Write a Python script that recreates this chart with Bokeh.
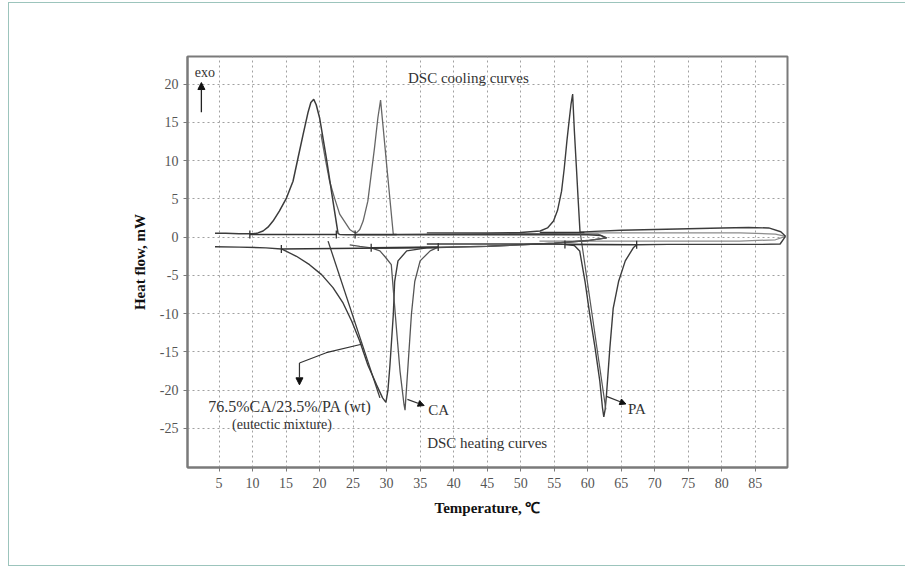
from bokeh.plotting import figure
from bokeh.models import Range1d, Label, Arrow, NormalHead, FixedTicker
from bokeh.embed import file_html
from bokeh.resources import INLINE

# ---------------- data ----------------
x_ticks = [5, 10, 15, 20, 25, 30, 35, 40, 45, 50, 55, 60, 65, 70, 75, 80, 85]
y_ticks = [20, 15, 10, 5, 0, -5, -10, -15, -20, -25]
y_tick_labels = ["20", "15", "10", "5", "0", "-5", "-10", "-15", "-20", "-25"]

# eutectic mixture, cooling run
eut_cool_x = [62.8, 62.0, 60.0, 50.0, 40.0, 30.0, 24.0, 23.0, 22.76, 22.0, 21.0, 20.0, 19.5, 19.13,
              18.7, 18.28, 17.54, 16.8, 16.04, 15.06, 14.0, 13.06, 12.3, 11.57, 10.8, 10.07, 8.0, 6.0, 4.4]
eut_cool_y = [-0.1, 0.2, 0.3, 0.3, 0.3, 0.3, 0.3, 0.35, 0.45, 4.7, 10.4, 15.6, 17.3, 18.0,
              17.6, 16.3, 13.4, 10.4, 7.3, 5.1, 3.4, 2.1, 1.3, 0.8, 0.55, 0.43, 0.45, 0.5, 0.5]

# CA, cooling run
ca_cool_x = [62.8, 61.5, 55.0, 45.0, 35.0, 31.0, 30.6, 30.0, 29.5, 29.1, 28.7, 28.2, 27.7, 27.2,
             26.5, 26.0, 25.5, 25.0, 24.5, 23.0, 22.2, 21.5, 20.8, 20.2]
ca_cool_y = [-0.1, 0.4, 0.45, 0.45, 0.4, 0.35, 4.0, 9.5, 14.2, 17.9, 15.6, 11.7, 8.2, 4.7,
             2.1, 1.0, 0.56, 0.7, 1.0, 3.0, 5.2, 7.3, 10.5, 13.5]

# PA, cooling run
pa_cool_x = [89.5, 88.8, 87.0, 84.0, 80.0, 75.0, 70.0, 65.0, 61.0, 58.85, 58.6, 58.3, 58.0, 57.75,
             57.5, 57.2, 56.9, 56.5, 56.1, 55.5, 54.9, 54.0, 52.9, 50.0, 45.0, 40.0, 36.0]
pa_cool_y = [0.1, 0.7, 1.2, 1.25, 1.2, 1.1, 1.0, 0.9, 0.75, 0.65, 4.5, 9.3, 14.0, 18.7,
             17.3, 15.0, 12.6, 9.0, 6.0, 3.5, 2.1, 1.2, 0.8, 0.6, 0.55, 0.55, 0.55]

# eutectic mixture, heating run
eut_heat_x = [4.4, 8.0, 12.0, 14.3, 16.55, 18.5, 20.3, 22.0, 23.5, 24.8, 26.0, 27.2, 28.5, 29.4,
              29.9, 30.2, 30.5, 31.0, 31.2, 31.7, 33.0, 36.0, 45.0, 55.0, 60.0, 62.8]
eut_heat_y = [-1.25, -1.3, -1.4, -1.55, -2.5, -3.6, -4.9, -6.6, -8.6, -11.0, -13.6, -16.7, -19.3, -21.0,
              -21.6, -20.0, -16.7, -10.1, -5.8, -3.1, -1.8, -1.4, -1.2, -0.8, -0.45, -0.1]

# CA, heating run
ca_heat_x = [24.5, 26.0, 27.7, 29.0, 29.8, 30.7, 31.5, 32.0, 32.6, 32.75, 33.2, 33.7, 34.2, 35.0,
             36.5, 37.7, 45.0, 55.0, 60.0, 62.8]
ca_heat_y = [-1.0, -1.2, -1.4, -1.8, -2.6, -3.6, -12.3, -17.5, -21.9, -22.6, -16.7, -10.1, -5.8, -3.1,
             -1.8, -1.3, -1.2, -0.8, -0.45, -0.1]

# PA, heating run
pa_heat_x = [36.0, 45.0, 52.0, 56.6, 58.0, 58.8, 59.6, 60.3, 61.1, 61.8, 62.2, 62.4, 62.6, 62.8,
             63.3, 63.8, 64.6, 65.6, 66.8, 67.3, 72.0, 80.0, 86.0, 88.7, 89.5]
pa_heat_y = [-0.9, -0.9, -0.9, -0.95, -1.1, -1.8, -5.8, -10.1, -14.5, -18.8, -22.3, -23.5, -22.5, -20.6,
             -14.5, -9.3, -5.8, -3.1, -1.4, -1.0, -0.95, -0.95, -0.95, -0.9, 0.1]

# extra baseline traces of the PA runs
pa_base2_x = [52.8, 60.0, 70.0, 82.7, 88.0, 89.5]
pa_base2_y = [0.56, 0.56, 0.56, 0.56, 0.4, 0.1]
pa_base3_x = [52.8, 60.0, 70.0, 82.7, 88.0, 89.5]
pa_base3_y = [-0.52, -0.52, -0.52, -0.52, -0.35, 0.1]

# onset tangents
eut_tan_x = [21.27, 29.0]
eut_tan_y = [-0.52, -21.0]
pa_tan_x = [58.9, 62.7]
pa_tan_y = [0.5, -22.5]

# integration baselines (start/end x and y)
int_x0 = [9.6, 25.3, 14.3, 27.7, 56.6, 52.9]
int_y0 = [0.35, 0.35, -1.55, -1.4, -0.95, 0.6]
int_x1 = [22.5, 31.5, 37.7, 37.7, 67.3, 59.5]
int_y1 = [0.35, 0.35, -1.35, -1.3, -1.0, 0.6]

# limit markers
mark_x = [9.6, 22.5, 25.3, 14.3, 27.7, 37.7, 56.6, 67.3]
mark_y = [0.35, 0.35, 0.35, -1.55, -1.4, -1.3, -0.95, -1.0]

# annotation anchors
eut_ptr_x = [26.25, 21.0, 17.0]
eut_ptr_y = [-14.0, -15.1, -16.45]

SERIF = "Liberation Serif"
DARK = "#3c3c3c"
MID = "#666666"
LIGHT = "#8c8c8c"
FRAME = "#9cc4bc"

p = figure(width=897, height=564, output_backend="svg", toolbar_location=None,
           x_range=Range1d(0.3, 89.8), y_range=Range1d(-30.1, 23.6))
p.min_border_left = 178
p.min_border_top = 53
p.min_border_right = 119
p.min_border_bottom = 100
p.background_fill_color = "white"
p.border_fill_color = "white"
p.outline_line_color = "#7a7a7a"
p.outline_line_width = 2
p.styles = {"margin-left": "8px", "margin-top": "2px",
            "border-left": "1px solid " + FRAME, "border-top": "1px solid " + FRAME,
            "border-bottom": "1px solid " + FRAME}

for ax in (p.xaxis[0], p.yaxis[0]):
    ax.axis_line_color = "#7a7a7a"
    ax.axis_line_width = 2
    ax.major_tick_line_color = "#7a7a7a"
    ax.major_tick_out = 4
    ax.major_tick_in = 0
    ax.minor_tick_line_color = None
    ax.major_label_text_font = SERIF
    ax.major_label_text_font_size = "14px"
    ax.major_label_text_color = "#555555"
    ax.axis_label_text_font = SERIF
    ax.axis_label_text_font_size = "15px"
    ax.axis_label_text_font_style = "bold"
    ax.axis_label_text_color = "#111111"

p.xaxis.ticker = FixedTicker(ticks=x_ticks)
p.yaxis.ticker = FixedTicker(ticks=y_ticks)
p.yaxis.major_label_overrides = {t: l for t, l in zip(y_ticks, y_tick_labels)}
p.xaxis.axis_label = "Temperature, \u2103"
p.yaxis.axis_label = "Heat flow, mW"
p.xaxis.major_label_standoff = 6
p.yaxis.major_label_standoff = 5
p.xaxis.axis_label_standoff = 9
p.yaxis.axis_label_standoff = 9

p.xgrid.ticker = FixedTicker(ticks=x_ticks)
p.ygrid.ticker = FixedTicker(ticks=y_ticks)
for g in (p.xgrid[0], p.ygrid[0]):
    g.grid_line_color = "#a0a0a0"
    g.grid_line_dash = "2 3"
    g.grid_line_width = 1

# curves
p.line(pa_base2_x, pa_base2_y, line_color=LIGHT, line_width=1.2)
p.line(pa_base3_x, pa_base3_y, line_color=LIGHT, line_width=1.2)
p.line(ca_cool_x, ca_cool_y, line_color=MID, line_width=1.3)
p.line(eut_cool_x, eut_cool_y, line_color=DARK, line_width=1.5)
p.line(pa_cool_x, pa_cool_y, line_color=DARK, line_width=1.4)
p.line(eut_heat_x, eut_heat_y, line_color=DARK, line_width=1.4)
p.line(ca_heat_x, ca_heat_y, line_color="#555555", line_width=1.3)
p.line(pa_heat_x, pa_heat_y, line_color=DARK, line_width=1.4)
p.line(eut_tan_x, eut_tan_y, line_color=DARK, line_width=1.3)
p.line(pa_tan_x, pa_tan_y, line_color="#555555", line_width=1.2)
p.segment(int_x0, int_y0, int_x1, int_y1, line_color="#333333", line_width=1.6)
p.scatter(mark_x, mark_y, marker="dash", angle=1.5708, size=8, line_color="#333333", line_width=1.3)

# annotations
txt = dict(text_font=SERIF, text_color="#333333")
p.add_layout(Label(x=1.4, y=21.5, text="exo", text_font_size="14px", text_baseline="middle", **txt))
p.add_layout(Arrow(x_start=2.37, y_start=16.3, x_end=2.37, y_end=20.2, line_color="#222222", line_width=1.3,
                   end=NormalHead(size=7, fill_color="#111111", line_color="#111111")))
p.add_layout(Label(x=42.2, y=20.85, text="DSC cooling curves", text_font_size="15px",
                   text_align="center", text_baseline="middle", **txt))
p.add_layout(Label(x=45.0, y=-26.9, text="DSC heating curves", text_font_size="15px",
                   text_align="center", text_baseline="middle", **txt))
p.add_layout(Label(x=3.4, y=-22.1, text="76.5%CA/23.5%/PA (wt)", text_font_size="16px",
                   text_baseline="middle", **txt))
p.add_layout(Label(x=14.4, y=-24.45, text="(eutectic mixture)", text_font_size="14px",
                   text_align="center", text_baseline="middle", **txt))
p.add_layout(Label(x=36.2, y=-22.6, text="CA", text_font_size="15px", text_baseline="middle", **txt))
p.add_layout(Label(x=66.0, y=-22.4, text="PA", text_font_size="15px", text_baseline="middle", **txt))

p.line(eut_ptr_x, eut_ptr_y, line_color="#333333", line_width=1.2)
p.add_layout(Arrow(x_start=eut_ptr_x[-1], y_start=eut_ptr_y[-1], x_end=17.0, y_end=-19.3,
                   line_color="#333333", line_width=1.2,
                   end=NormalHead(size=7, fill_color="#111111", line_color="#111111")))
p.add_layout(Arrow(x_start=33.1, y_start=-21.2, x_end=35.6, y_end=-22.0, line_color="#333333", line_width=1.2,
                   end=NormalHead(size=6, fill_color="#111111", line_color="#111111")))
p.add_layout(Arrow(x_start=62.8, y_start=-20.8, x_end=65.7, y_end=-21.8, line_color="#333333", line_width=1.2,
                   end=NormalHead(size=6, fill_color="#111111", line_color="#111111")))

open("out.html", "w").write(file_html(p, INLINE))
